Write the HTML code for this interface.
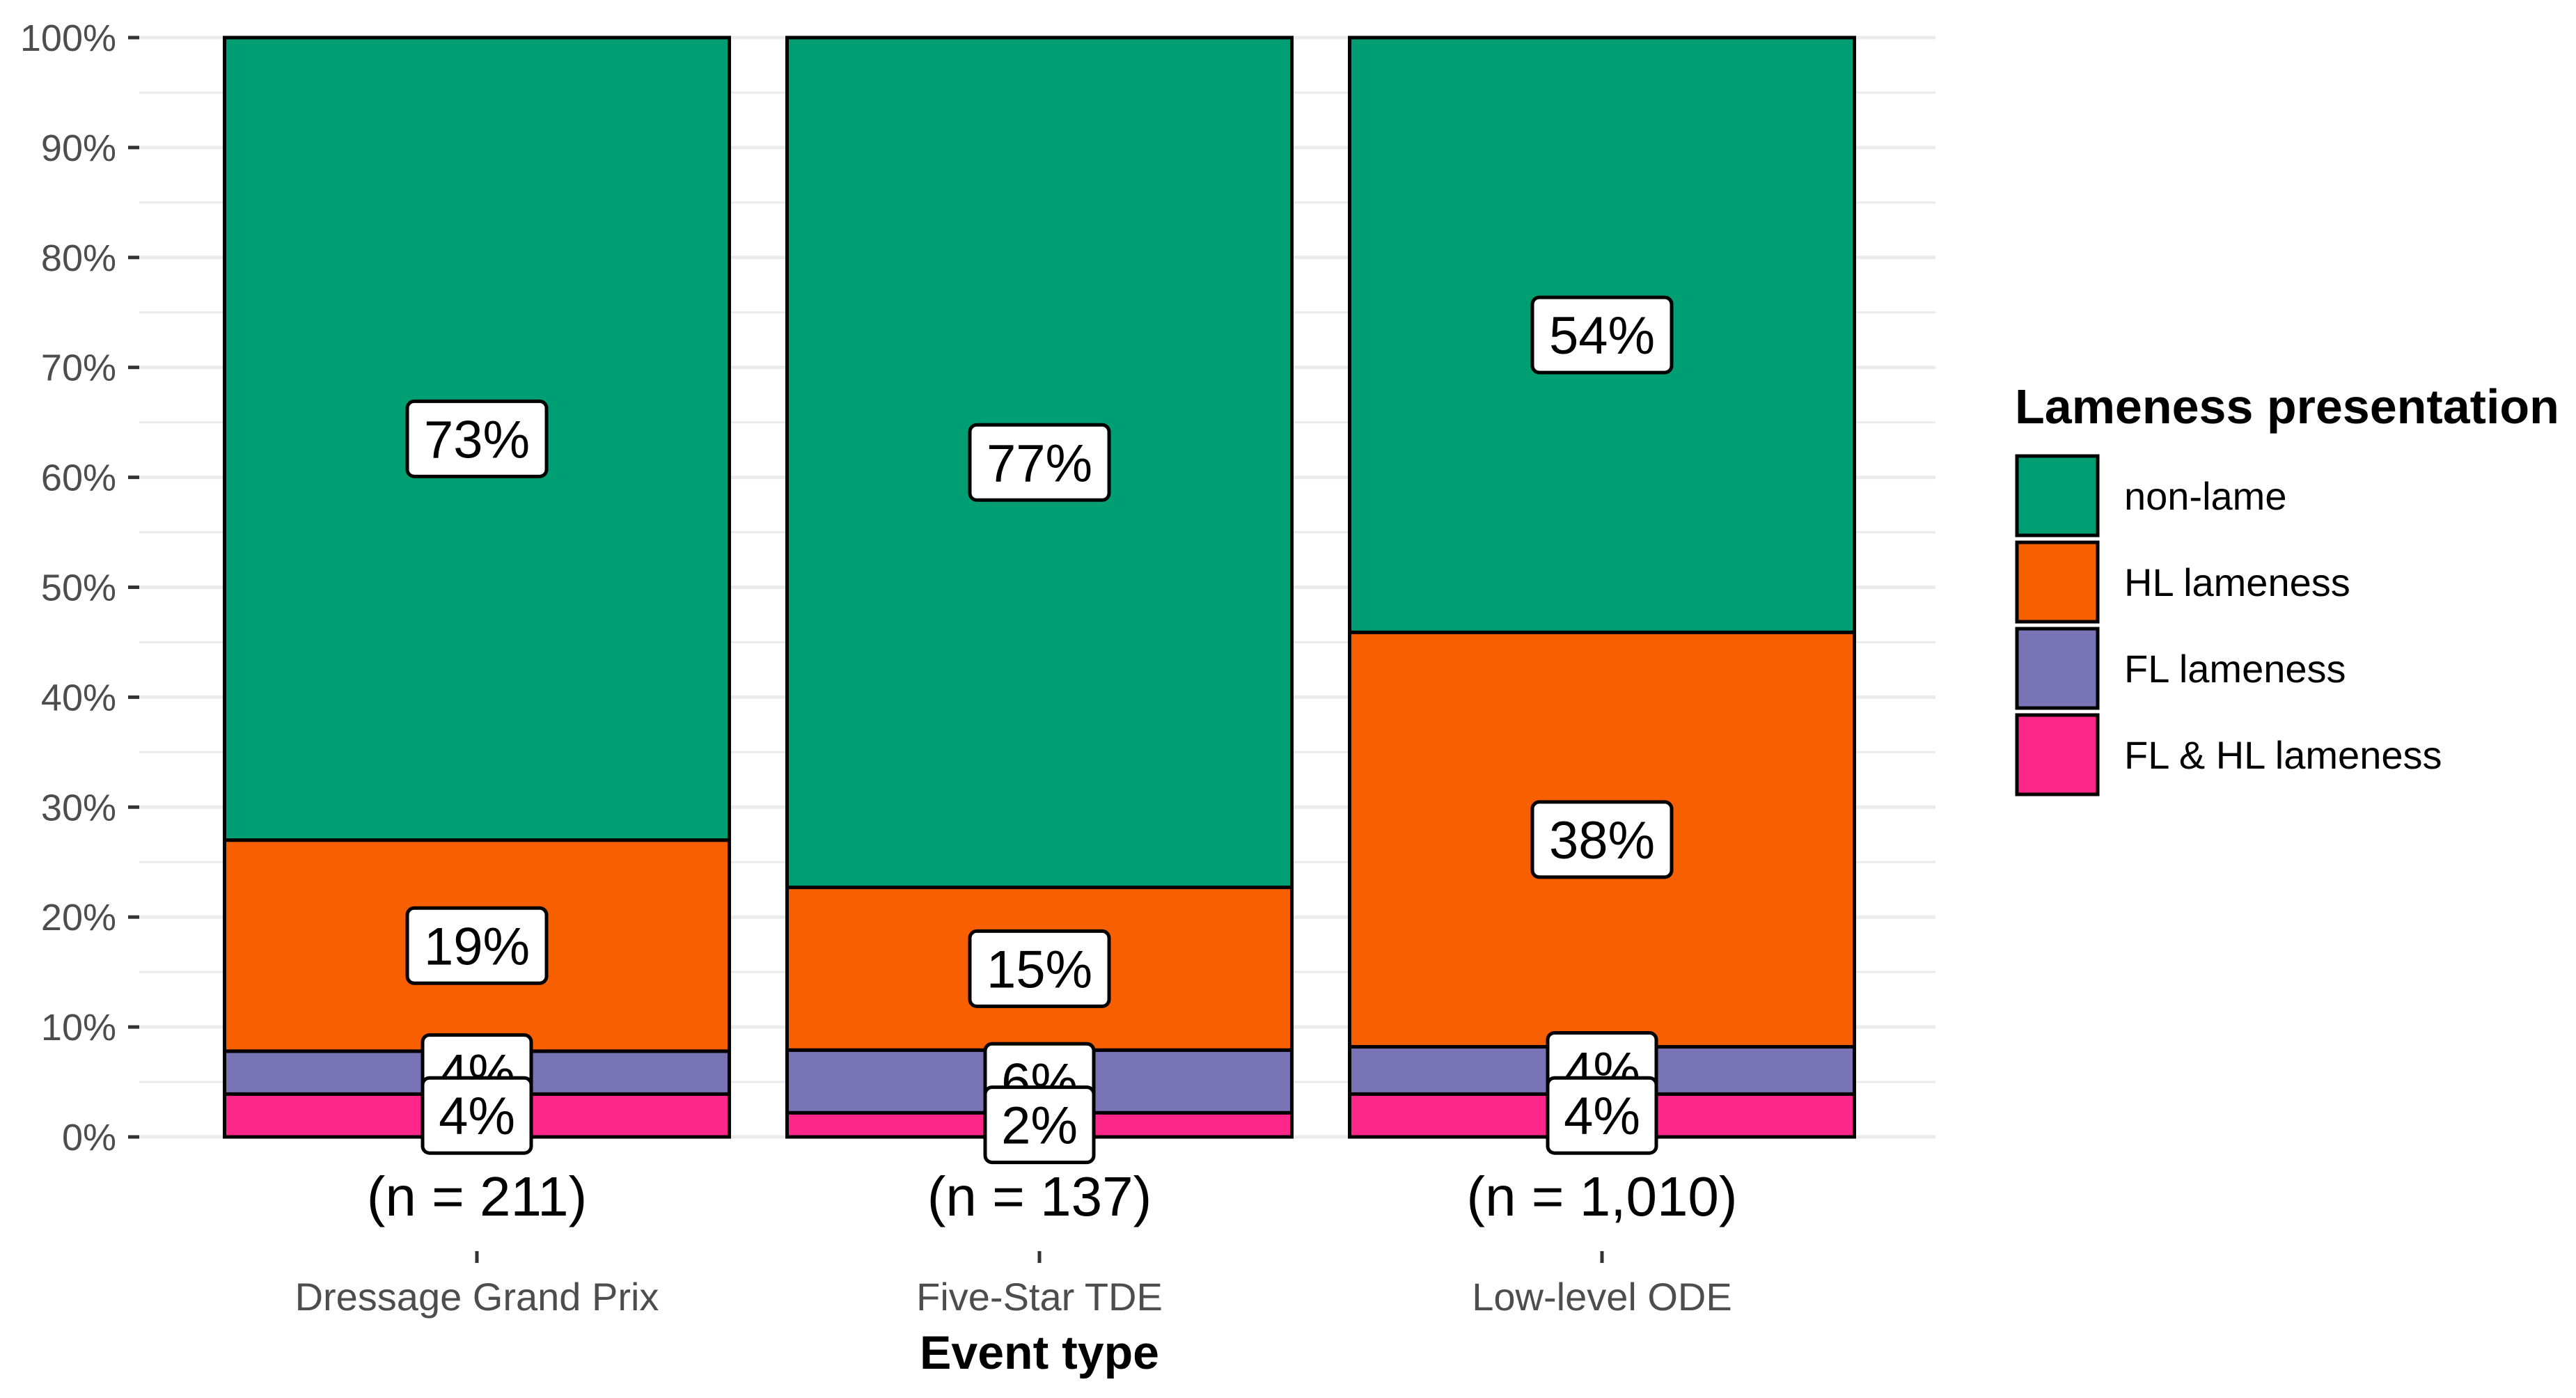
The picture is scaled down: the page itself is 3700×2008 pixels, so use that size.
<!DOCTYPE html>
<html><head><meta charset="utf-8"><style>
html,body{margin:0;padding:0;background:#fff;}
svg{display:block;font-family:"Liberation Sans",Arial,sans-serif;}
</style></head><body>
<svg id="chart" width="3700" height="2008" viewBox="0 0 3700 2008" xmlns="http://www.w3.org/2000/svg">
<g id="grid"></g>
<g id="yaxis"></g>
<g id="bars"></g>
<g id="labels"></g>
<g id="xaxis"></g>
<text x="1493" y="1966" text-anchor="middle" font-size="68" font-weight="bold" fill="#000">Event type</text>
<g id="legend">
<text x="2894" y="608" font-size="70" font-weight="bold" fill="#000">Lameness presentation</text>
</g>
</svg>
<script>
const categories = ["Dressage Grand Prix", "Five-Star TDE", "Low-level ODE"];
const nLabels = ["(n = 211)", "(n = 137)", "(n = 1,010)"];
const seriesNames = ["FL & HL lameness", "FL lameness", "HL lameness", "non-lame"];
const fllhl = [3.9, 2.2, 3.9];
const fl = [3.9, 5.7, 4.3];
const hl = [19.2, 14.8, 37.7];
const nonlame = [73.0, 77.3, 54.1];
const printedFlhl = ["4%", "2%", "4%"];
const printedFl = ["4%", "6%", "4%"];
const printedHl = ["19%", "15%", "38%"];
const printedNon = ["73%", "77%", "54%"];
const yTicks = [0, 10, 20, 30, 40, 50, 60, 70, 80, 90, 100];
const legendOrder = ["non-lame", "HL lameness", "FL lameness", "FL & HL lameness"];

const colors = {"non-lame":"#009E73","HL lameness":"#F75F00","FL lameness":"#7873B5","FL & HL lameness":"#FF2689"};
const NS = "http://www.w3.org/2000/svg";
const Y0 = 1633, Y100 = 54, X0 = 200, X1 = 2780;
const yScale = v => Y0 - (Y0 - Y100) * v / 100;
const step = 808, firstCenter = 685, barW = 725;
const xCenter = i => firstCenter + i * step;
function mk(tag, attrs, parent){const e=document.createElementNS(NS,tag);for(const k in attrs)e.setAttribute(k,attrs[k]);parent.appendChild(e);return e;}

const grid = document.getElementById('grid');
for (let v = 0; v <= 100; v += 5) {
  const major = v % 10 === 0;
  const l = mk('line',{x1:X0,x2:X1,y1:yScale(v),y2:yScale(v),stroke:'#ebebeb','stroke-width':major?5:3},grid);
  
  
}
const yaxis = document.getElementById('yaxis');
yTicks.forEach(v => {
  const t = mk('text',{x:167,y:yScale(v)+19,'text-anchor':'end','font-size':54,fill:'#4d4d4d'},yaxis);
  t.textContent = v + '%';
  
  
  const tk = mk('line',{x1:184,x2:200,y1:yScale(v),y2:yScale(v),stroke:'#333','stroke-width':5},yaxis);
  
  
});

const bars = document.getElementById('bars');
const labels = document.getElementById('labels');
const stack = [fllhl, fl, hl, nonlame];
const printed = [printedFlhl, printedFl, printedHl, printedNon];
const labelQueue = [];
categories.forEach((c, i) => {
  let base = 0;
  stack.forEach((arr, s) => {
    const v = arr[i];
    const r = mk('rect',{x:xCenter(i)-barW/2,y:yScale(base+v),width:barW,height:yScale(base)-yScale(base+v),fill:colors[seriesNames[s]],stroke:'#000','stroke-width':5},bars);
    
    
    labelQueue.push({i, s, mid: base + v/2, text: printed[s][i]});
    base += v;
  });
});
// draw labels top-down so bottom labels overlap upper ones
labelQueue.sort((a,b)=> (a.i-b.i) || (b.s-a.s));
labelQueue.forEach(L => {
  const fs = 76;
  const tw = L.text.length === 2 ? 108 : 152;
  const w = tw + 48, h = 108;
  const cx = xCenter(L.i), cy = yScale(L.mid);
  const g = mk('g',{},labels);
  
  
  mk('rect',{x:cx-w/2,y:cy-h/2,width:w,height:h,rx:10,ry:10,fill:'#fff',stroke:'#000','stroke-width':5},g);
  const t = mk('text',{x:cx,y:cy+27,'text-anchor':'middle','font-size':fs,fill:'#000'},g);
  t.textContent = L.text;
});

const xaxis = document.getElementById('xaxis');
categories.forEach((c, i) => {
  const n = mk('text',{x:xCenter(i),y:1746,'text-anchor':'middle','font-size':80,fill:'#000'},xaxis);
  n.textContent = nLabels[i];
  
  
  const tk = mk('line',{x1:xCenter(i),x2:xCenter(i),y1:1797,y2:1814,stroke:'#333','stroke-width':5},xaxis);
  
  
  const t = mk('text',{x:xCenter(i),y:1882,'text-anchor':'middle','font-size':56,fill:'#4d4d4d'},xaxis);
  t.textContent = c;
  
  
});

const legend = document.getElementById('legend');
legendOrder.forEach((name, k) => {
  const y = 655 + k * 124;
  const g = mk('g',{},legend);
  
  
  mk('rect',{x:2897,y:y,width:116,height:114,fill:colors[name],stroke:'#000','stroke-width':5},g);
  const t = mk('text',{x:3051,y:y+77,'font-size':56,fill:'#000'},g);
  t.textContent = name;
});
</script>
</body></html>
